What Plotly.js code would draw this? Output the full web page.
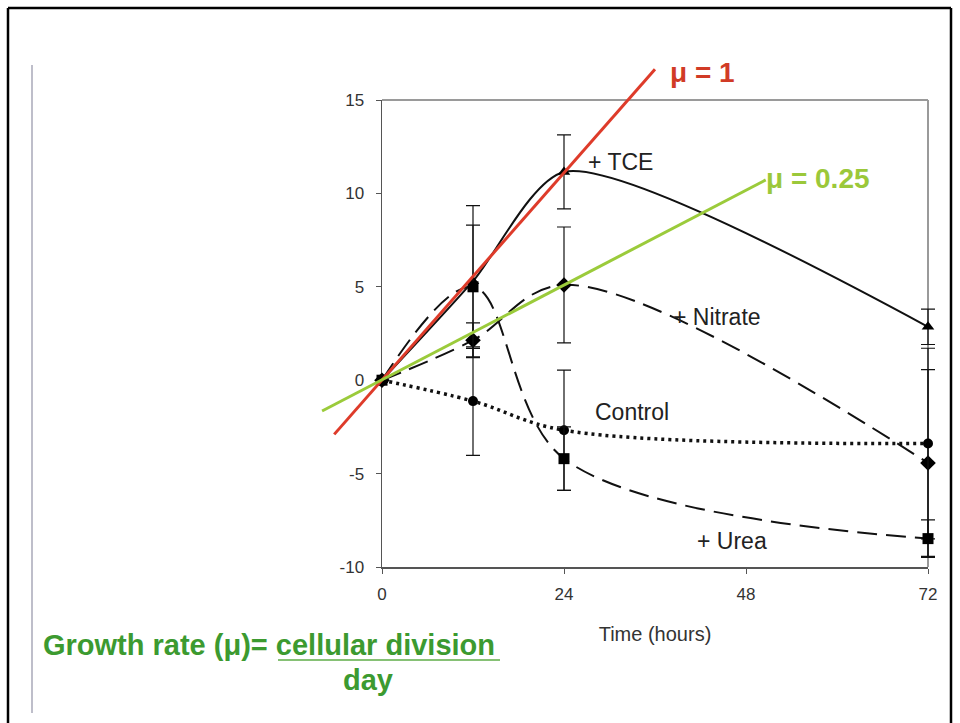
<!DOCTYPE html>
<html><head><meta charset="utf-8">
<script src="https://cdn.plot.ly/plotly-3.0.1.min.js"></script>
<style>html,body{margin:0;padding:0;background:#fff}#chart{width:960px;height:723px}</style>
</head><body><div id="chart"></div>
<script>
// ---- data ----
const hours = [0, 12, 24, 72];
const tceValues = [0, 5.3, 11.15, 2.86];
const tceErrors = [NaN, 4.05, 1.98, 0.95];
const nitrateValues = [0, 2.14, 5.1, -4.43];
const nitrateErrors = [NaN, 0.93, 3.1, 5.0];
const controlValues = [0, -1.12, -2.68, -3.39];
const controlErrors = [NaN, 2.9, 3.22, 5.1];
const ureaValues = [0, 5.0, -4.2, -8.48];
const ureaErrors = [NaN, 3.3, 1.7, 1.0];
const mu1LineX = [-6.3, 36.0];
const mu1LineY = [-2.9, 16.65];
const mu025LineX = [-7.9, 50.6];
const mu025LineY = [-1.65, 10.72];
const xTickVals = [0, 24, 48, 72];
const xTickText = ['0', '24', '48', '72'];
const yTickVals = [-10, -5, 0, 5, 10, 15];
const yTickText = ['-10', '-5', '0', '5', '10', '15'];
const xRange = [0, 72];
const yRange = [-10, 15];
const labelTCE = '+ TCE', labelNitrate = '+ Nitrate', labelControl = 'Control', labelUrea = '+ Urea';
const labelMu1 = 'μ = 1', labelMu025 = 'μ = 0.25';
const formulaTop = 'Growth rate (μ)= cellular division', formulaBottom = 'day';
const xTitle = 'Time (hours)';

// ---- geometry ----
const W = 960, H = 723;
const M = {l: 300, r: 16, t: 60, b: 150};
const PW = W - M.l - M.r, PH = H - M.t - M.b;
const axL = 382, axR = 928, axT = 100, axB = 567;
const px = x => (x - M.l) / PW;
const py = y => (H - M.b - y) / PH;
const xDom = [px(axL), px(axR)];
const yDom = [py(axB), py(axT)];
const xPerPx = (xRange[1] - xRange[0]) / (axR - axL);
const yPerPx = (yRange[1] - yRange[0]) / (axB - axT);
const x2Range = [xRange[0] - (axL - M.l) * xPerPx, xRange[1] + (W - M.r - axR) * xPerPx];
const y2Range = [yRange[0] - (H - M.b - axB) * yPerPx, yRange[1] + (axT - M.t) * yPerPx];

const FONT = 'Liberation Sans, Arial, sans-serif';
const errStyle = arr => ({type: 'data', array: arr, visible: true, color: '#111', thickness: 1.2, width: 7});
const DASH = '20px,9px';

const traces = [
  // carrier trace so the visible axes (x, y) are drawn; transparent
  {x: hours, y: controlValues, mode: 'markers', marker: {opacity: 0}, hoverinfo: 'skip', xaxis: 'x', yaxis: 'y'},
  {x: hours, y: tceValues, mode: 'lines+markers',
   line: {shape: 'spline', smoothing: 0.7, color: '#111', width: 2},
   marker: {symbol: 'triangle-up', size: 11, color: '#000'}, error_y: errStyle(tceErrors), xaxis: 'x2', yaxis: 'y2'},
  {x: hours, y: nitrateValues, mode: 'lines+markers',
   line: {shape: 'spline', smoothing: 1, color: '#111', width: 2, dash: DASH},
   marker: {symbol: 'diamond', size: 12, color: '#000'}, error_y: errStyle(nitrateErrors), xaxis: 'x2', yaxis: 'y2'},
  {x: hours, y: controlValues, mode: 'lines+markers',
   line: {shape: 'spline', smoothing: 1, color: '#111', width: 3.5, dash: '3px,4px'},
   marker: {symbol: 'circle', size: 10, color: '#000'}, error_y: errStyle(controlErrors), xaxis: 'x2', yaxis: 'y2'},
  {x: hours, y: ureaValues, mode: 'lines+markers',
   line: {shape: 'spline', smoothing: 1, color: '#111', width: 2, dash: DASH},
   marker: {symbol: 'square', size: 11, color: '#000'}, error_y: errStyle(ureaErrors), xaxis: 'x2', yaxis: 'y2'},
  {x: mu1LineX, y: mu1LineY, mode: 'lines', line: {color: '#de3b2a', width: 3}, xaxis: 'x2', yaxis: 'y2'},
  {x: mu025LineX, y: mu025LineY, mode: 'lines', line: {color: '#9bcb3b', width: 3}, xaxis: 'x2', yaxis: 'y2'}
];

const ann = (text, x, y, size, color, bold, xanchor) => ({
  text: bold ? '<b>' + text + '</b>' : text, xref: 'paper', yref: 'paper', x: px(x), y: py(y),
  xanchor: xanchor || 'left', yanchor: 'middle', showarrow: false,
  font: {family: FONT, size: size, color: color}
});

const line = (x0, y0, x1, y1, color, width) => ({
  type: 'line', xref: 'paper', yref: 'paper', x0: px(x0), y0: py(y0), x1: px(x1), y1: py(y1),
  line: {color: color, width: width}, layer: 'above'
});

const layout = {
  width: W, height: H, margin: M, showlegend: false,
  paper_bgcolor: '#fff', plot_bgcolor: 'rgba(0,0,0,0)',
  xaxis: {domain: xDom, range: xRange, anchor: 'y', tickvals: xTickVals, ticktext: xTickText, ticks: 'outside', ticklen: 5,
    tickcolor: '#555', showline: true, linecolor: '#555', linewidth: 1.5, showgrid: false, zeroline: false,
    tickfont: {family: FONT, size: 17, color: '#333'}, ticklabelstandoff: 6,
    title: {text: xTitle, font: {family: FONT, size: 20, color: '#333'}, standoff: 24}},
  yaxis: {domain: yDom, range: yRange, anchor: 'x', tickvals: yTickVals, ticktext: yTickText, ticks: 'outside', ticklen: 5,
    tickcolor: '#555', showline: true, linecolor: '#555', linewidth: 1.5, showgrid: false, zeroline: false,
    tickfont: {family: FONT, size: 17, color: '#333'}, ticklabelstandoff: 8},
  xaxis2: {domain: [0, 1], range: x2Range, anchor: 'y2', visible: false},
  yaxis2: {domain: [0, 1], range: y2Range, anchor: 'x2', visible: false},
  shapes: [
    {type: 'line', xref: 'paper', yref: 'paper', x0: xDom[0], x1: xDom[1], y0: yDom[1], y1: yDom[1], line: {color: '#9a9a9a', width: 2}, layer: 'below'},
    {type: 'line', xref: 'paper', yref: 'paper', x0: xDom[1], x1: xDom[1], y0: yDom[0], y1: yDom[1], line: {color: '#9a9a9a', width: 2}, layer: 'below'},
    line(8, 8, 8, 723, '#000', 2.5),
    line(8, 8, 951, 8, '#000', 2.5),
    line(951, 8, 951, 723, '#000', 2.5),
    line(32, 65, 32, 713, '#a9a9b8', 1.5),
    line(278, 660, 500, 660, '#86c175', 2)
  ],
  annotations: [
    ann(labelTCE, 586, 162, 23, '#222'),
    ann(labelNitrate, 671, 317, 23, '#222'),
    ann(labelControl, 593, 412, 23, '#222'),
    ann(labelUrea, 695, 541, 23, '#222'),
    ann(labelMu025, 764, 178, 28, '#9bc83a', true),
    ann(labelMu1, 668, 72, 28, '#d13b26', true),
    ann(formulaTop, 41, 645, 29, '#3c9a30', true),
    ann(formulaBottom, 368, 680, 29, '#3c9a30', true, 'center')
  ]
};

Plotly.newPlot('chart', traces, layout, {displayModeBar: false, staticPlot: true});
</script>
</body></html>
